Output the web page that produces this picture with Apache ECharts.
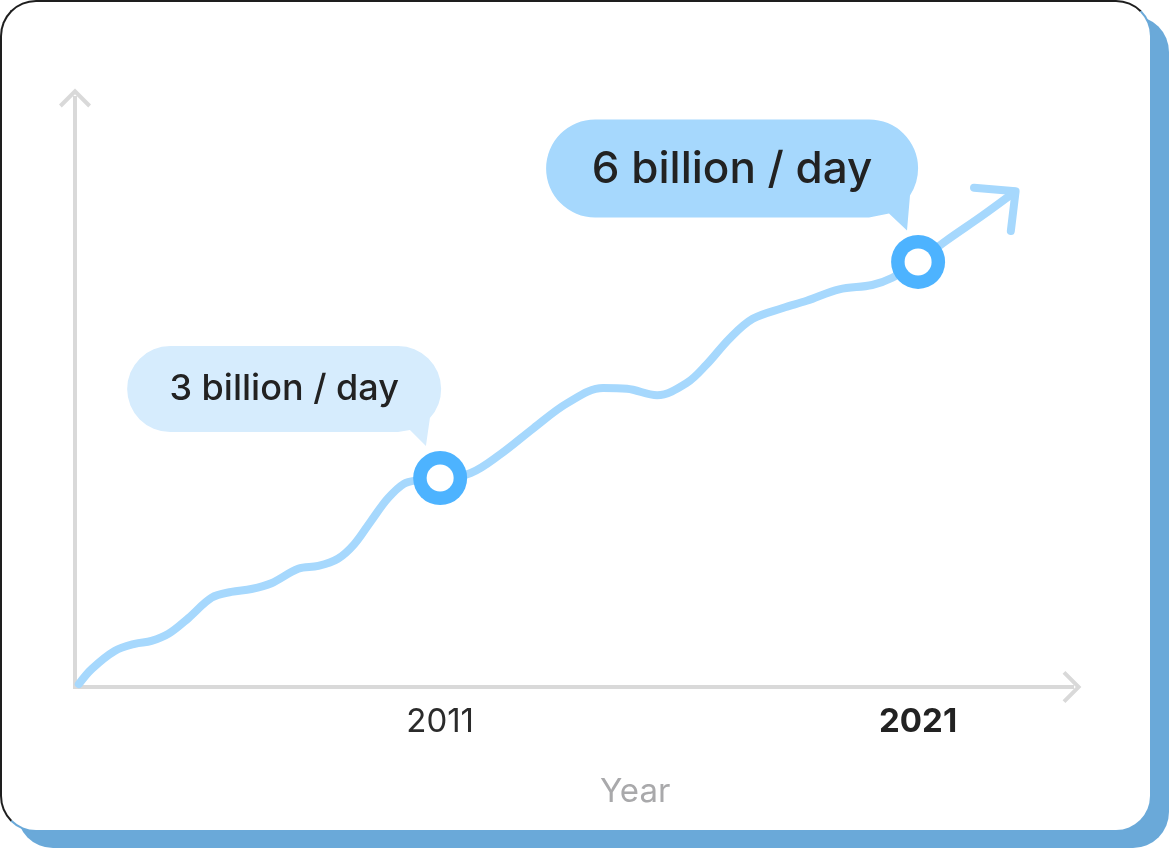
<!DOCTYPE html>
<html>
<head>
<meta charset="utf-8">
<script src="https://cdn.jsdelivr.net/npm/echarts@6/dist/echarts.min.js"></script>
<style>
  html, body { margin: 0; padding: 0; background: #ffffff; }
  #card {
    position: absolute; left: 0; top: 0; width: 1152px; height: 832px;
    box-sizing: border-box; background: #ffffff;
    border: 2px solid; border-color: #1e1e1e #6aa9d9 #6aa9d9 #1e1e1e;
    border-radius: 36px; box-shadow: 17px 16px 0 #6aa9d9;
  }
  #chart { position: absolute; left: 0; top: 0; width: 1169px; height: 848px; }
</style>
</head>
<body>
<div id="card"></div>
<div id="chart"></div>
<script>
// ---- data ----
const curveYears = [2003.44, 2003.71, 2004.19, 2004.61, 2004.96, 2005.32, 2005.74, 2006.22, 2006.63, 2007.05,
                    2007.47, 2008.03, 2008.45, 2008.86, 2009.20, 2009.55, 2009.91, 2010.24, 2010.53, 2011.00,
                    2011.64, 2012.26, 2012.95, 2013.66, 2014.41, 2014.91, 2015.54, 2016.16, 2016.58, 2017.06,
                    2017.54, 2018.17, 2018.67, 2019.35, 2020.04, 2020.46, 2021.00, 2021.58, 2022.34, 2023.02];
const curveValues = [0.14, 0.35, 0.60, 0.70, 0.74, 0.84, 1.06, 1.34, 1.42, 1.46,
                     1.54, 1.74, 1.78, 1.88, 2.08, 2.40, 2.72, 2.92, 2.97, 3.00,
                     3.07, 3.33, 3.69, 4.04, 4.25, 4.24, 4.15, 4.32, 4.58, 4.94,
                     5.21, 5.36, 5.46, 5.62, 5.68, 5.78, 6.00, 6.29, 6.64, 6.97];
const arrowYears = [2022.17, 2023.04, 2022.94];
const arrowValues = [7.03, 6.98, 6.43];
const milestoneYears = [2011, 2021];
const milestoneValues = [3, 6];
const milestoneLabels = ['3 billion / day', '6 billion / day'];
const tickYears = [2011, 2021];
const boldTick = 2021;
const axisName = 'Year';

// ---- styling ----
const FONT = 'Inter';
const LINE_COLOR = '#a6d8fd';
const RING_COLOR = '#4db3ff';
const AXIS_COLOR = '#d9d9d9';
const chevron = 'path://M16,0 L32,16 L29.2,18.8 L16,5.6 L2.8,18.8 L0,16 Z';
const bubbleSmall = 'path://M43,0 L271,0 A43,43 0 0 1 303,72 L299,100 L283,84 L271,86 L43,86 A43,43 0 0 1 43,0 Z';
const bubbleLarge = 'path://M49,0 L323,0 A49,49 0 0 1 364,76 L361,111 L343,94 L323,98 L49,98 A49,49 0 0 1 49,0 Z';

const zip = (xs, ys) => xs.map((x, i) => [x, ys[i]]);

const bubbleStyles = [
  { symbol: bubbleSmall, size: [314, 100], offset: [-156, -82], color: '#d6ecfd', fontSize: 36, labelOffset: [0, -7] },
  { symbol: bubbleLarge, size: [372, 111], offset: [-186, -87], color: '#a6d8fd', fontSize: 44, labelOffset: [0, -5] }
];

const markData = milestoneYears.map((yr, i) => ({
  coord: [yr, milestoneValues[i]],
  symbol: bubbleStyles[i].symbol,
  symbolSize: bubbleStyles[i].size,
  symbolOffset: bubbleStyles[i].offset,
  itemStyle: { color: bubbleStyles[i].color, opacity: 1 },
  label: {
    show: true, position: 'inside', formatter: milestoneLabels[i],
    color: '#222222', fontFamily: FONT, fontSize: bubbleStyles[i].fontSize, fontWeight: 500,
    offset: bubbleStyles[i].labelOffset
  }
}));

const chart = echarts.init(document.getElementById('chart'), null, { renderer: 'canvas' });
chart.setOption({
  animation: false,
  backgroundColor: 'transparent',
  title: {
    text: axisName, left: 595, top: 771,
    textStyle: { fontFamily: FONT, fontSize: 33, fontWeight: 400, color: '#a9a9ab' }
  },
  grid: { left: 75, top: 98, width: 997, height: 589, containLabel: false },
  xAxis: {
    type: 'value', min: 2003.36, max: 2024.22,
    splitLine: { show: false },
    axisTick: { show: false },
    axisLine: {
      show: true, onZero: false,
      lineStyle: { color: AXIS_COLOR, width: 4, cap: 'square' },
      symbol: ['none', chevron], symbolSize: [32, 19]
    },
    axisLabel: {
      show: true, customValues: tickYears, margin: 19,
      formatter: v => (v === boldTick ? '{b|' + v + '}' : '{n|' + v + '}'),
      rich: {
        n: { fontFamily: FONT, fontSize: 33, fontWeight: 400, color: '#2b2b2b' },
        b: { fontFamily: FONT, fontSize: 33, fontWeight: 700, color: '#222222' }
      }
    }
  },
  yAxis: {
    type: 'value', min: 0.1, max: 8.275,
    splitLine: { show: false },
    axisTick: { show: false },
    axisLabel: { show: false },
    axisLine: {
      show: true, onZero: false,
      lineStyle: { color: AXIS_COLOR, width: 4, cap: 'square' },
      symbol: ['none', chevron], symbolSize: [32, 19]
    }
  },
  series: [
    {
      name: 'growth', type: 'line', data: zip(curveYears, curveValues),
      smooth: 0.35, symbol: 'none',
      lineStyle: { color: LINE_COLOR, width: 8, cap: 'round', join: 'round' },
      z: 2
    },
    {
      name: 'arrowhead', type: 'line', data: zip(arrowYears, arrowValues),
      smooth: false, symbol: 'none',
      lineStyle: { color: LINE_COLOR, width: 8, cap: 'round', join: 'round' },
      z: 2
    },
    {
      name: 'milestones', type: 'scatter', data: zip(milestoneYears, milestoneValues),
      symbol: 'circle', symbolSize: 54,
      itemStyle: { color: RING_COLOR, opacity: 1 },
      z: 4,
      markPoint: { silent: true, animation: false, data: markData }
    },
    {
      name: 'milestoneHoles', type: 'scatter', data: zip(milestoneYears, milestoneValues),
      symbol: 'circle', symbolSize: 27,
      itemStyle: { color: '#ffffff', opacity: 1 },
      z: 5
    }
  ]
});
</script>
</body>
</html>
